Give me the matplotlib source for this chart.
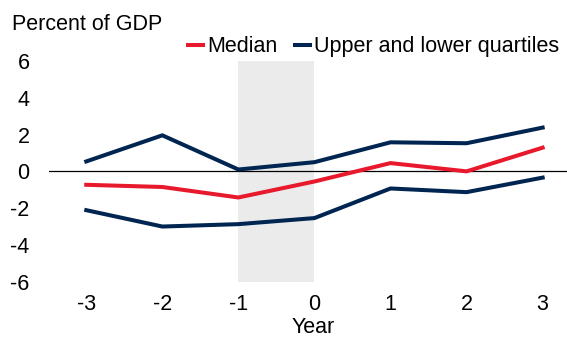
import matplotlib.pyplot as plt

plt.rcParams['font.family'] = ['Liberation Sans', 'DejaVu Sans']

years = [-3, -2, -1, 0, 1, 2, 3]
median = [-0.73, -0.85, -1.42, -0.55, 0.45, 0.0, 1.29]
upper_q = [0.54, 1.96, 0.10, 0.50, 1.58, 1.53, 2.38]
lower_q = [-2.11, -3.00, -2.87, -2.54, -0.93, -1.13, -0.34]
shade_span = (-1, 0)
yticks = [-6, -4, -2, 0, 2, 4, 6]

red = '#E8192C'
navy = '#002551'
fs = 15.5

fig = plt.figure(figsize=(5.67, 3.39), dpi=100)
ax = fig.add_axes([0.0864, 0.169, 0.9136, 0.651])

ax.axvspan(shade_span[0], shade_span[1], color='#EBEBEB', lw=0, zorder=0)
ax.axhline(0, color='black', lw=0.9, zorder=1)

ax.plot(years, median, color=red, lw=2.9, label='Median', zorder=3)
ax.plot(years, upper_q, color=navy, lw=2.9, label='Upper and lower quartiles', zorder=2)
ax.plot(years, lower_q, color=navy, lw=2.9, zorder=2)

ax.set_xlim(-3.49, 3.32)
ax.set_ylim(-6, 6)
ax.set_xticks(years)
ax.set_xticklabels([str(y) for y in years])
ax.set_yticks(yticks)
ax.set_yticklabels([str(t) for t in yticks])
ax.tick_params(length=0, labelsize=fs)
ax.tick_params(axis='x', pad=9)
ax.tick_params(axis='y', pad=14)
for s in ax.spines.values():
    s.set_visible(False)

fig.text(0.021, 0.927, 'Percent of GDP', fontsize=fs, va='center', ha='left')
fig.text(0.553, 0.002, 'Year', fontsize=fs, va='bottom', ha='center')

ax.legend(loc='center left', bbox_to_anchor=(0.332, 0.862), bbox_transform=fig.transFigure,
          ncol=2, frameon=False, fontsize=fs, handlelength=0.7,
          handletextpad=0.2, columnspacing=0.8, borderpad=0, borderaxespad=0)

fig.savefig('out.png', dpi=100)
